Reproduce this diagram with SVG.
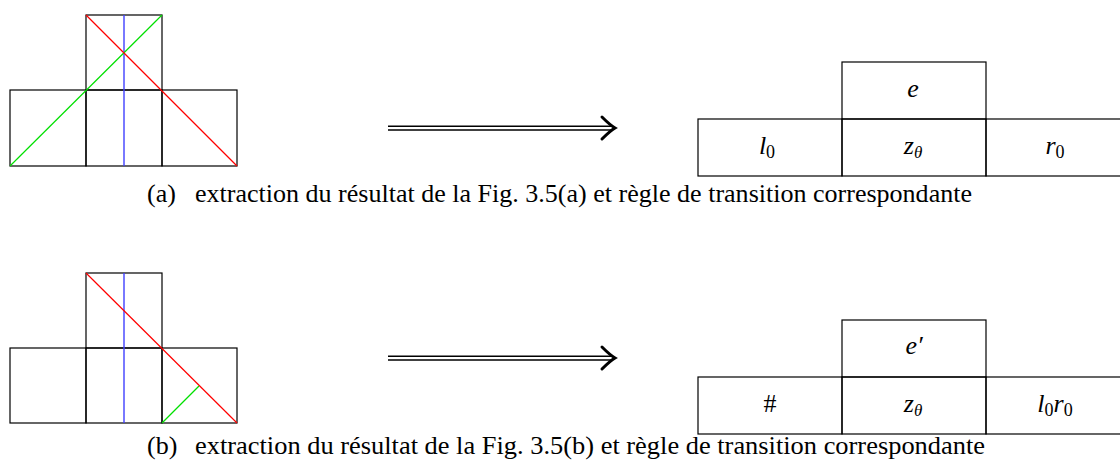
<svg xmlns="http://www.w3.org/2000/svg" width="1120" height="468" viewBox="0 0 1120 468">
<style>
.box{fill:none;stroke:#000;stroke-width:1.2}
.red{stroke:#ff0000;stroke-width:1.2;fill:none}
.grn{stroke:#00e000;stroke-width:1.2;fill:none}
.blu{stroke:#4040ff;stroke-width:1.4;fill:none}
.m{font-style:italic;font-size:26px;text-anchor:middle;fill:#000}
.sub{font-size:18px;font-style:normal}
.subi{font-size:17px}
.cap{font-size:26px;fill:#000}
.arr{stroke:#000;fill:none}
</style>
<g id="fig-a-left">
<rect class="box" x="86" y="15" width="76" height="75"/>
<rect class="box" x="10" y="90" width="76" height="76"/>
<rect class="box" x="86" y="90" width="76" height="76"/>
<rect class="box" x="162" y="90" width="75" height="76"/>
<line class="blu" x1="124" y1="15" x2="124" y2="166"/>
<line class="grn" x1="10" y1="166" x2="162" y2="15"/>
<line class="red" x1="86" y1="15" x2="237" y2="166"/>
</g>
<g id="fig-b-left">
<rect class="box" x="86" y="273" width="76" height="75"/>
<rect class="box" x="10" y="348" width="76" height="75"/>
<rect class="box" x="86" y="348" width="76" height="75"/>
<rect class="box" x="162" y="348" width="75" height="75"/>
<line class="blu" x1="124" y1="273" x2="124" y2="423"/>
<line class="red" x1="86" y1="273" x2="237" y2="423"/>
<line class="grn" x1="162" y1="423" x2="199" y2="386"/>
</g>
<g id="connectors">
<g id="arrow-a">
<line class="arr" stroke-width="1.4" x1="388" y1="126.2" x2="611" y2="126.2"/>
<line class="arr" stroke-width="1.4" x1="388" y1="130" x2="611" y2="130"/>
<path class="arr" stroke-width="3" stroke-linecap="round" d="M602 117 Q610 125 615 128 Q610 131 602 139"/>
</g>
<g id="arrow-b">
<line class="arr" stroke-width="1.4" x1="388" y1="356.2" x2="611" y2="356.2"/>
<line class="arr" stroke-width="1.4" x1="388" y1="360" x2="611" y2="360"/>
<path class="arr" stroke-width="3" stroke-linecap="round" d="M602 347 Q610 355 615 358 Q610 361 602 369"/>
</g>
</g>
<g id="rule-a" font-family="'Liberation Serif', 'Times New Roman', serif">
<rect class="box" x="842" y="62" width="144" height="57"/>
<rect class="box" x="698" y="119" width="144" height="57"/>
<rect class="box" x="842" y="119" width="144" height="57"/>
<rect class="box" x="986" y="119" width="144" height="57"/>
<text class="m" x="913" y="97">e</text>
<text class="m" x="767" y="154">l<tspan class="sub" dy="4">0</tspan></text>
<text class="m" x="913" y="154">z<tspan class="subi" dy="4">θ</tspan></text>
<text class="m" x="1055" y="154">r<tspan class="sub" dy="4">0</tspan></text>
</g>
<g id="rule-b" font-family="'Liberation Serif', 'Times New Roman', serif">
<rect class="box" x="842" y="320" width="144" height="57"/>
<rect class="box" x="698" y="377" width="144" height="57"/>
<rect class="box" x="842" y="377" width="144" height="57"/>
<rect class="box" x="986" y="377" width="144" height="57"/>
<text class="m" x="914" y="354">e′</text>
<text class="m" x="770" y="412" style="font-style:normal">#</text>
<text class="m" x="913" y="412">z<tspan class="subi" dy="4">θ</tspan></text>
<text class="m" x="1055" y="412">l<tspan class="sub" dy="4">0</tspan><tspan dy="-4">r</tspan><tspan class="sub" dy="4">0</tspan></text>
</g>
<g id="captions" font-family="'Liberation Serif', 'Times New Roman', serif">
<text class="cap" x="147" y="202">(a)</text>
<text class="cap" x="195" y="202" textLength="777" lengthAdjust="spacingAndGlyphs">extraction du résultat de la Fig. 3.5(a) et règle de transition correspondante</text>
<text class="cap" x="147" y="454">(b)</text>
<text class="cap" x="195" y="454" textLength="790" lengthAdjust="spacingAndGlyphs">extraction du résultat de la Fig. 3.5(b) et règle de transition correspondante</text>
</g>
</svg>
